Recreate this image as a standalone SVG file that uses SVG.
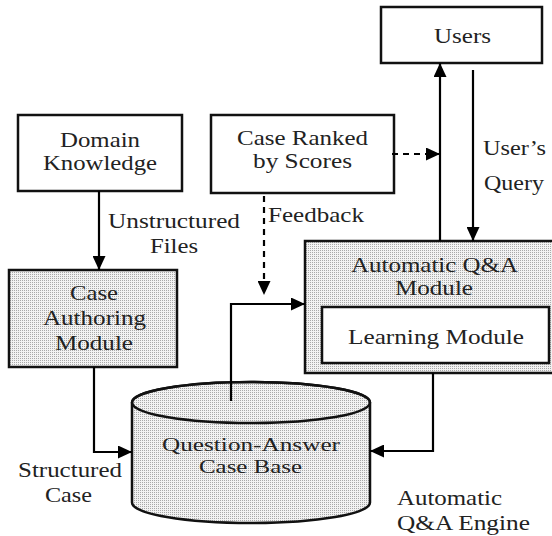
<svg xmlns="http://www.w3.org/2000/svg" width="552" height="536" viewBox="0 0 552 536">
<defs>
<pattern id="dots" width="2" height="2" patternUnits="userSpaceOnUse">
<rect width="2" height="2" fill="#f2f2f2"/>
<rect width="1" height="1" fill="#a8a8a8"/>
</pattern>
<marker id="arr" markerUnits="userSpaceOnUse" markerWidth="15" markerHeight="13" refX="14" refY="6.5" orient="auto">
<path d="M0,0 L14,6.5 L0,13 z" fill="#000"/>
</marker>
</defs>
<style>
.box{fill:#fff;stroke:#111;stroke-width:2.5}
.shaded{fill:url(#dots);stroke:#111;stroke-width:2.5}
.t{font-family:'Liberation Serif','Times New Roman',serif;font-size:21px;fill:#222}
.s{font-size:19px}
.c{fill:none;stroke:#000;stroke-width:2.2}
.d{fill:none;stroke:#000;stroke-width:2.2;stroke-dasharray:6,5}
</style>
<g id="users">
<rect class="box" x="381" y="7" width="161" height="56"/>
<text class="t" x="434" y="43" textLength="57" lengthAdjust="spacingAndGlyphs">Users</text>
</g>
<g id="domain-knowledge">
<rect class="box" x="18" y="115" width="164" height="76"/>
<text class="t" x="60" y="147" textLength="80" lengthAdjust="spacingAndGlyphs">Domain</text>
<text class="t" x="43" y="170" textLength="114" lengthAdjust="spacingAndGlyphs">Knowledge</text>
</g>
<g id="case-ranked">
<rect class="box" x="211" y="115" width="183" height="78"/>
<text class="t" x="237" y="145" textLength="131" lengthAdjust="spacingAndGlyphs">Case Ranked</text>
<text class="t" x="253" y="168" textLength="99" lengthAdjust="spacingAndGlyphs">by Scores</text>
</g>
<g id="case-authoring">
<rect class="shaded" x="9" y="270" width="168" height="97"/>
<text class="t" x="70" y="300" textLength="48" lengthAdjust="spacingAndGlyphs">Case</text>
<text class="t" x="43" y="325" textLength="103" lengthAdjust="spacingAndGlyphs">Authoring</text>
<text class="t" x="55" y="350" textLength="78" lengthAdjust="spacingAndGlyphs">Module</text>
</g>
<g id="automatic-qa-module">
<rect class="shaded" x="305" y="241" width="250" height="132"/>
<text class="t" x="351" y="272" textLength="167" lengthAdjust="spacingAndGlyphs">Automatic Q&amp;A</text>
<text class="t" x="395" y="295" textLength="78" lengthAdjust="spacingAndGlyphs">Module</text>
</g>
<g id="learning-module">
<rect class="box" x="322" y="307" width="227" height="56"/>
<text class="t" x="348" y="344" textLength="176" lengthAdjust="spacingAndGlyphs">Learning Module</text>
</g>
<g id="case-base">
<path class="shaded" d="M132,402.5 L132,502.5 A119,20.5 0 0 0 370,502.5 L370,402.5 A119,20.5 0 0 0 132,402.5 Z"/>
<ellipse cx="251" cy="402.5" rx="119" ry="20.5" fill="none" stroke="#111" stroke-width="2.5"/>
<text class="t s" x="162" y="451" textLength="178" lengthAdjust="spacingAndGlyphs">Question-Answer</text>
<text class="t s" x="199" y="473" textLength="103" lengthAdjust="spacingAndGlyphs">Case Base</text>
</g>
<g id="connectors">
<path class="c" d="M440,241 L440,63" marker-end="url(#arr)"/>
<path class="c" d="M473,70 L473,241" marker-end="url(#arr)"/>
<path class="d" d="M392,154 L440,154" marker-end="url(#arr)"/>
<path class="d" d="M264,196 L264,295" marker-end="url(#arr)"/>
<path class="c" d="M99,191 L99,270" marker-end="url(#arr)"/>
<path class="c" d="M94,367 L94,452 L132,452" marker-end="url(#arr)"/>
<path class="c" d="M231,401 L231,304 L305,304" marker-end="url(#arr)"/>
<path class="c" d="M433,373 L433,451 L370,451" marker-end="url(#arr)"/>
</g>
<g id="labels">
<text class="t" x="483" y="155" textLength="63" lengthAdjust="spacingAndGlyphs">User’s</text>
<text class="t" x="484" y="190" textLength="60" lengthAdjust="spacingAndGlyphs">Query</text>
<text class="t" x="268" y="222" textLength="96" lengthAdjust="spacingAndGlyphs">Feedback</text>
<text class="t" x="108" y="228" textLength="132" lengthAdjust="spacingAndGlyphs">Unstructured</text>
<text class="t" x="150" y="253" textLength="48" lengthAdjust="spacingAndGlyphs">Files</text>
<text class="t" x="18" y="477" textLength="104" lengthAdjust="spacingAndGlyphs">Structured</text>
<text class="t" x="45" y="502" textLength="47" lengthAdjust="spacingAndGlyphs">Case</text>
<text class="t" x="397" y="505" textLength="105" lengthAdjust="spacingAndGlyphs">Automatic</text>
<text class="t" x="397" y="530" textLength="133" lengthAdjust="spacingAndGlyphs">Q&amp;A Engine</text>
</g>
</svg>
